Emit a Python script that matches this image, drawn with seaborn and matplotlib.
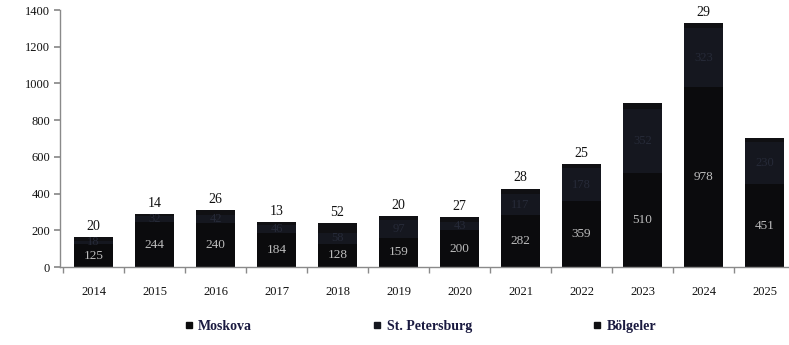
import matplotlib
matplotlib.use("Agg")
import matplotlib.pyplot as plt
from matplotlib.lines import Line2D
import numpy as np
import pandas as pd
import seaborn as sns

years = ["2014", "2015", "2016", "2017", "2018", "2019",
         "2020", "2021", "2022", "2023", "2024", "2025"]
moskova = [125, 244, 240, 184, 128, 159, 200, 282, 359, 510, 978, 451]
st_petersburg = [18, 32, 42, 46, 58, 97, 43, 117, 178, 352, 323, 230]
bolgeler = [20, 14, 26, 13, 52, 20, 27, 28, 25, 30, 29, 22]
# regions label is not printed above these years
hide_region_label = ["2023", "2025"]

series_names = ["Moskova", "St. Petersburg", "Bölgeler"]
colors = ["#0b0b0d", "#15171f", "#101013"]
text_font = ["Liberation Serif", "DejaVu Serif"]

sns.set_theme(style="white")
plt.rcParams["font.family"] = text_font

df = pd.DataFrame({"year": years, "Moskova": moskova,
                   "St. Petersburg": st_petersburg, "Bölgeler": bolgeler})
df["lvl1"] = df["Moskova"]
df["lvl2"] = df["Moskova"] + df["St. Petersburg"]
df["lvl3"] = df["lvl2"] + df["Bölgeler"]

fig = plt.figure(figsize=(7.89, 3.45), dpi=100)
ax = fig.add_axes([0.076, 0.226, 0.924, 0.745])

# stacked bars drawn as cumulative layers, tallest first
for col, color in zip(["lvl3", "lvl2", "lvl1"], colors[::-1]):
    sns.barplot(data=df, x="year", y=col, color=color, width=0.64,
                saturation=1, ax=ax, order=years, linewidth=0,
                edgecolor=color)

cont_top, cont_mid, cont_bot = ax.containers

top_labels = ["" if y in hide_region_label else str(v)
              for y, v in zip(years, bolgeler)]
ax.bar_label(cont_top, labels=top_labels, padding=3, fontsize=10,
             color="#111111", family=text_font)

# middle segment labels (dim, centered in segment)
for bar, lo, v in zip(cont_mid, moskova, st_petersburg):
    ax.text(bar.get_x() + bar.get_width() / 2, lo + v / 2, str(v),
            ha="center", va="center", fontsize=9, color="#262a38",
            family=text_font)

ax.bar_label(cont_bot, labels=[str(v) for v in moskova], label_type="center",
             fontsize=9.5, color="#bdbdbd", family=text_font)

ax.set_ylim(0, 1400)
ax.set_yticks(np.arange(0, 1401, 200))
ax.set_xlim(-0.55, 11.4)
ax.set_xlabel("")
ax.set_ylabel("")

for s in ["top", "right"]:
    ax.spines[s].set_visible(False)
for s in ["left", "bottom"]:
    ax.spines[s].set_color("#8a8a8a")
    ax.spines[s].set_linewidth(1.0)

ax.tick_params(axis="y", which="major", left=True, length=4, color="#8a8a8a",
               labelsize=9, labelcolor="#111111", pad=3)
ax.tick_params(axis="x", which="major", bottom=False, labelsize=9,
               labelcolor="#111111", pad=8)
ax.set_xticks(np.arange(-0.5, 11.5, 1.0), minor=True)
ax.tick_params(axis="x", which="minor", bottom=True, length=4,
               color="#8a8a8a")

handles = [Line2D([0], [0], marker="s", linestyle="", markersize=4.5,
                  markerfacecolor=c, markeredgecolor=c) for c in colors]
fig.legend(handles, series_names, loc="center", bbox_to_anchor=(0.532, 0.055),
           ncol=3, frameon=False, columnspacing=8.6, handletextpad=0.3,
           handlelength=0.8,
           prop={"family": text_font, "size": 10, "weight": "bold"},
           labelcolor="#1a1a40")

fig.savefig("out.png", dpi=100)
